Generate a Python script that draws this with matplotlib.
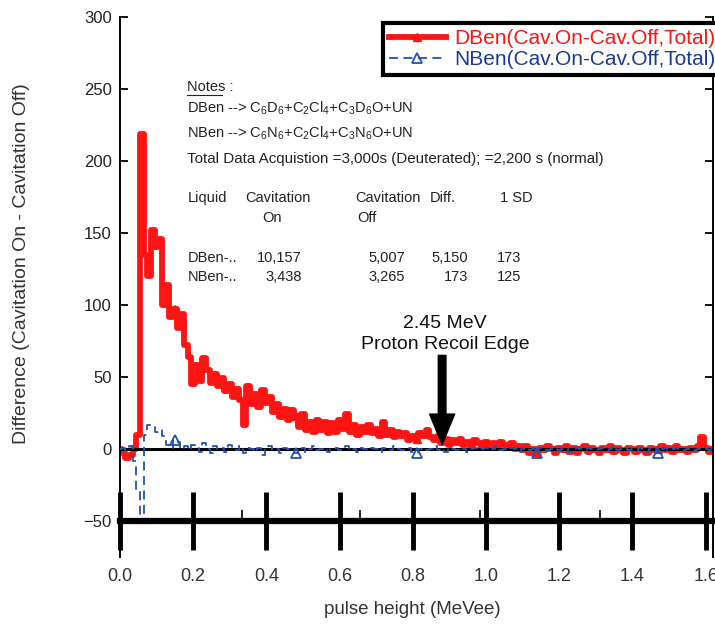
import numpy as np
import matplotlib
matplotlib.use("Agg")
import matplotlib.pyplot as plt
from matplotlib.lines import Line2D

plt.rcParams["font.family"] = ["Liberation Sans", "DejaVu Sans"]
plt.rcParams["mathtext.fontset"] = "custom"
plt.rcParams["mathtext.rm"] = "Liberation Sans"

# ---- spectra: difference counts per 0.01 MeVee channel ----
bin_width = 0.01
dben = [
    0, -3, -6, -4, 0, 10, 219, 135, 120, 152,
    140, 146, 100, 114, 92, 97, 84, 94, 72, 64,
    45, 58, 47, 63, 55, 46, 52, 44, 49, 40,
    45, 36, 42, 34, 17, 44, 31, 38, 29, 41,
    32, 36, 26, 31, 22, 28, 20, 27, 23, 15,
    24, 13, 19, 12, 20, 13, 19, 11, 18, 12,
    20, 14, 24, 12, 17, 10, 15, 12, 17, 11,
    14, 9, 19, 10, 13, 8, 12, 9, 11, 6,
    9, 7, 11, 9, 13, 8, 6, 9, 4, 7,
    3, 6, 4, 7, 3, 5, 2, 6, 4, 1,
    5, 2, 4, 1, 5, 3, 1, 4, 0, 2,
    -1, 2, -3, 0, -2, 1, -1, 2, 0, -3,
    1, -1, 2, -2, 1, -3, 0, 2, -2, 1,
    -1, -3, 1, -1, 2, -2, 1, -1, -3, 1,
    0, -2, 1, -1, -3, 1, -1, 0, 2, -1,
    1, -2, 2, -1, 0, -2, 1, -1, 2, 8,
    1, -2, 0,
]
nben = [
    0, 1, -1, 2, -8, -28, -46, 10, 17, 15,
    12, 13, 9, 3, 1, 6, 5, 0, 2, -1,
    3, 1, -2, 4, 0, -3, 2, 0, 1, -2,
    3, 0, -1, 2, -3, 1, 0, -2, 1, -4,
    0, 2, -1, 0, -3, 1, 0, -1, -3, 0,
    1, -2, 0, 2, -1, 0, 1, -2, 0, 1,
    -1, 0, 2, -1, 0, -2, 1, 0, -1, 1,
    0, -2, 1, 0, -1, 2, 0, -1, 0, 1,
    -2, -3, 0, 1, -1, 0, 2, -1, 0, -2,
    1, 0, -1, 1, 0, -2, 0, 1, -1, 0,
    1, -1, 0, 2, -1, 0, -1, 1, 0, -2,
    0, 1, -1, 0, -3, 1, 0, -1, 0, 1,
    -1, 0, 1, -2, 0, 1, 0, -1, 1, 0,
    -1, 0, 1, -1, 0, 2, -1, 0, 1, -1,
    0, -1, 1, 0, -2, 0, 1, -3, 0, 1,
    -1, 0, 1, 0, -1, 0, 1, -1, 0, 1,
    0, -1, 0,
]
marker_channels = [15, 48, 81, 114, 147]
pulse_height = np.round(np.arange(len(dben)) * bin_width, 2)

y_ticks = [-50, 0, 50, 100, 150, 200, 250, 300]
x_ticks = [0.0, 0.2, 0.4, 0.6, 0.8, 1.0, 1.2, 1.4, 1.6]
x_tick_labels = ["0.0", "0.2", "0.4", "0.6", "0.8", "1.0", "1.2", "1.4", "1.6"]
x_minor_ticks = [0.333, 0.656, 0.984, 1.311]
edge_position = 0.88

W, H = 715, 626
fig = plt.figure(figsize=(W / 100, H / 100), dpi=100)


def fx(px):
    return px / W


def fy(py):
    return 1 - py / H


ax = fig.add_axes([fx(120), fy(557), (713 - 120) / W, 540 / H])

red = "#ff1414"
blue = "#2352b0"

ax.plot(pulse_height, dben, color=red, lw=4.2, drawstyle="steps-mid",
        marker="^", markevery=marker_channels, ms=6, mfc=red, mec=red,
        zorder=2, label="DBen(Cav.On-Cav.Off,Total)")
ax.axhline(0, color="black", lw=2.2, zorder=3)
ax.plot(pulse_height, nben, color=blue, lw=1.3, dashes=(5, 3),
        drawstyle="steps-mid", marker="^", markevery=marker_channels, ms=7,
        mfc="none", mec=blue, mew=1.3, zorder=4,
        label="NBen(Cav.On-Cav.Off,Total)")

ax.set_xlim(0, 1.62)
ax.set_ylim(-75, 300)

# axis frame: thick baseline at -50 with large crossing ticks
ax.spines["top"].set_visible(False)
ax.spines["bottom"].set_position(("data", -50))
ax.spines["bottom"].set_linewidth(4.5)
ax.spines["left"].set_linewidth(1.4)
ax.spines["right"].set_linewidth(1.4)

ax.set_xticks(x_ticks)
ax.set_xticklabels(x_tick_labels)
ax.set_xticks(x_minor_ticks, minor=True)
ax.tick_params(axis="x", which="major", direction="inout", length=42,
               width=3.5, pad=13, labelsize=13, labelcolor="#333333")
ax.tick_params(axis="x", which="minor", direction="in", length=8, width=1.2)

ax.set_yticks(y_ticks)
ax.tick_params(axis="y", which="major", direction="in", length=6, width=1.3,
               pad=6, labelsize=12, right=True, labelcolor="#222222")

fig.text(fx(22), fy(264), "Difference (Cavitation On - Cavitation Off)",
         rotation=90, ha="center", va="center", fontsize=14, color="#333333")
fig.text(fx(412), fy(610), "pulse height (MeVee)", ha="center", va="center",
         fontsize=13.5, color="#333333")

# proton recoil edge marker
ax.annotate("", xy=(edge_position, 3), xytext=(edge_position, 65),
            arrowprops=dict(facecolor="black", edgecolor="black", width=5.5,
                            headwidth=18, headlength=22, shrink=0), zorder=5)
ax.text(edge_position + 0.008, 80, "2.45 MeV\nProton Recoil Edge",
        ha="center", va="center", fontsize=14, linespacing=1.35,
        color="#111111")

leg = ax.legend(loc="upper left", bbox_to_anchor=(fx(383), fy(23)),
                bbox_transform=fig.transFigure, fontsize=15, frameon=True,
                fancybox=False, borderpad=0.3, labelspacing=0.08,
                handlelength=2.7, handletextpad=0.4, borderaxespad=0)
leg.get_frame().set_linewidth(3)
leg.get_frame().set_edgecolor("black")
leg.get_frame().set_alpha(1)
for txt, col in zip(leg.get_texts(), [red, "#1a3c8c"]):
    txt.set_color(col)

# notes block
note_kw = dict(fontsize=10.5, color="#222222", va="center")
fig.text(fx(187), fy(87), "Notes :", ha="left", **note_kw)
fig.add_artist(Line2D([fx(187), fx(222)], [fy(95), fy(95)], lw=0.8,
                      color="#222222"))
fig.text(fx(187), fy(108),
         r"DBen --> $\mathregular{C_6D_6{+}C_2Cl_4{+}C_3D_6O{+}UN}$",
         ha="left", **note_kw)
fig.text(fx(187), fy(133),
         r"NBen --> $\mathregular{C_6N_6{+}C_2Cl_4{+}C_3N_6O{+}UN}$",
         ha="left", **note_kw)
fig.text(fx(187), fy(159),
         "Total Data Acquistion =3,000s (Deuterated); =2,200 s (normal)",
         ha="left", fontsize=10.9, color="#222222", va="center")

header = [("Liquid", 188), ("Cavitation", 245), ("Cavitation", 355),
          ("Diff.", 430), ("1 SD", 500)]
for label, px in header:
    fig.text(fx(px), fy(198), label, ha="left", **note_kw)
fig.text(fx(262), fy(218), "On", ha="left", **note_kw)
fig.text(fx(357), fy(218), "Off", ha="left", **note_kw)

rows = [("DBen-..", ["10,157", "5,007", "5,150", "173"], 258),
        ("NBen-..", ["3,438", "3,265", "173", "125"], 277)]
col_right = [302, 405, 468, 521]
for name, cells, py in rows:
    fig.text(fx(188), fy(py), name, ha="left", **note_kw)
    for cell, px in zip(cells, col_right):
        fig.text(fx(px), fy(py), cell, ha="right", **note_kw)

fig.savefig("out.png", dpi=100)
